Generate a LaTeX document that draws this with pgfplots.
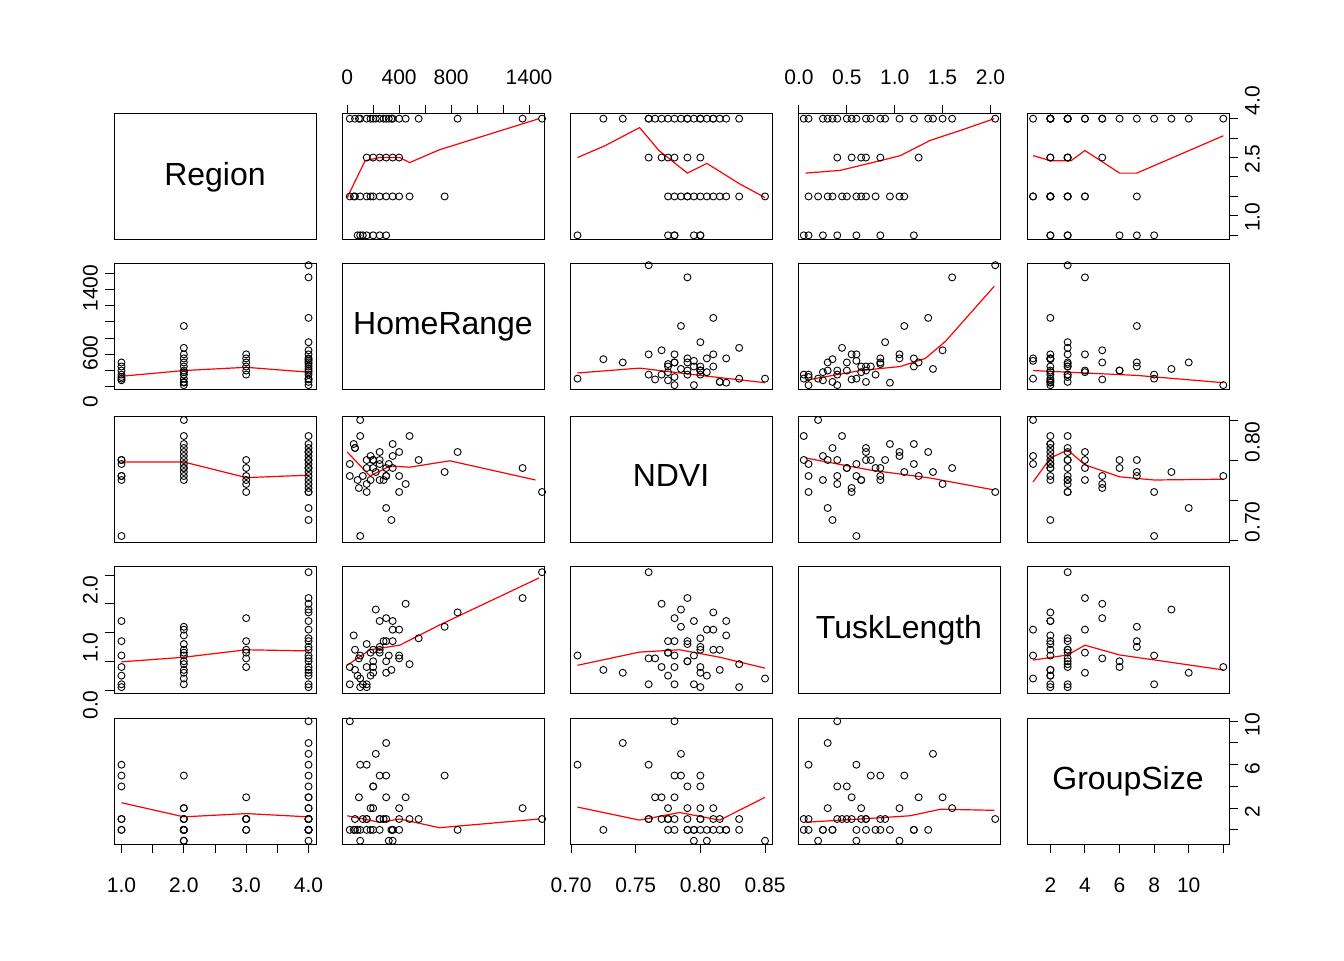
\documentclass[border=0pt]{standalone}
\usepackage{fontspec}
\setmainfont{Liberation Sans}
\usepackage{pgfplots}
\usepackage{pgfplotstable}
\pgfplotsset{compat=1.18}
\pgfplotstableread{
R H N T G
1 100 0.705 0.60 8
1 150 0.800 0.05 3
1 250 0.795 1.20 2
1 300 0.780 0.85 7
1 80 0.775 0.25 2
1 200 0.800 0.40 6
1 120 0.780 0.10 3
2 750 0.785 1.10 7
2 400 0.780 0.60 2
2 300 0.790 0.50 3
2 100 0.850 0.20 1
2 50 0.820 0.95 2
2 200 0.800 0.30 4
2 250 0.810 0.70 3
2 150 0.790 0.80 2
2 350 0.805 1.05 1
2 20 0.795 0.10 2
2 480 0.830 0.45 3
2 180 0.775 0.65 4
2 60 0.815 0.35 2
3 300 0.780 1.25 5
3 350 0.790 0.85 2
3 400 0.760 0.55 3
3 200 0.800 0.70 2
3 150 0.770 0.40 3
3 250 0.775 0.65 3
4 1500 0.760 2.05 3
4 1350 0.790 1.60 4
4 850 0.810 1.35 2
4 550 0.800 0.90 3
4 450 0.770 1.50 5
4 350 0.820 1.20 2
4 300 0.740 0.30 10
4 20 0.780 0.40 12
4 250 0.800 0.75 7
4 200 0.790 0.50 6
4 150 0.760 0.10 8
4 100 0.830 0.05 2
4 400 0.810 1.05 4
4 320 0.795 0.60 1
4 280 0.775 0.85 3
4 180 0.805 0.25 2
4 90 0.765 0.55 5
4 60 0.815 0.70 3
4 220 0.785 1.40 9
4 340 0.725 0.35 2
}\data
\pgfplotsset{
 panel/.style={width=101pt,height=63pt,scale only axis,anchor=south west,
   xtick=\empty,ytick=\empty,axis line style={line width=0.5pt},
   tick align=outside,major tick length=4.5pt,tick style={black,line width=0.5pt},
   tick label style={font=\fontsize{10.5}{12}\selectfont},
   clip=false},
 xR/.style={xmin=0.88,xmax=4.12}, yR/.style={ymin=0.88,ymax=4.12},
 xH/.style={xmin=-40,xmax=1515}, yH/.style={ymin=-40,ymax=1515},
 xN/.style={xmin=0.6992,xmax=0.8554}, yN/.style={ymin=0.6975,ymax=0.855},
 xT/.style={xmin=-0.01,xmax=2.1}, yT/.style={ymin=-0.052,ymax=2.14},
 xG/.style={xmin=0.65,xmax=12.33}, yG/.style={ymin=0.7,ymax=12.3},
 top/.style={xtick pos=upper,xticklabel style={yshift=6.5pt}},
 bot/.style={xtick pos=lower,xticklabel style={yshift=-9pt}},
 lft/.style={ytick pos=left,yticklabel style={rotate=90,anchor=south,xshift=-7.5pt}},
 rgt/.style={ytick pos=right,yticklabel style={rotate=90,anchor=north,xshift=9pt}},
}
\newcommand{\panel}[6]{%
\begin{axis}[panel,at={(#1pt,#2pt)},x#3,y#4,#5]
\addplot[only marks,mark=o,mark size=1.75pt,mark options={line width=0.45pt},black] table[x=#3,y=#4]{\data};
\addplot[red,line width=0.6pt] coordinates {#6};
\end{axis}}
\newcommand{\diag}[4]{%
\begin{axis}[panel,at={(#1pt,#2pt)},x#3,y#3,#4]
\node[font=\fontsize{16}{19}\selectfont] at (rel axis cs:0.5,0.5) {\vphantom{g}\csname dn#3\endcsname};
\end{axis}}
\def\dnR{Region}\def\dnH{HomeRange}\def\dnN{NDVI}\def\dnT{TuskLength}\def\dnG{GroupSize}
\begin{document}
\begin{tikzpicture}
\useasboundingbox (0,0) rectangle (672pt,480pt);
% row 1
\diag{57}{360}{R}{}
\panel{171}{360}{H}{R}{xtick={0,200,...,1400},xticklabels={0,,400,,800,,,1400},top}{(0,1.97)(138,2.92)(250,3.0)(405,3.0)(480,2.87)(710,3.2)(1477,4.0)}
\panel{285}{360}{N}{R}{}{(0.705,3.0)(0.726,3.3)(0.753,3.77)(0.768,3.18)(0.790,2.6)(0.805,2.85)(0.83,2.33)(0.85,1.97)}
\panel{399}{360}{T}{R}{xtick={0,0.5,...,2.0},xticklabels={0.0,0.5,1.0,1.5,2.0},top}{(0.07,2.6)(0.43,2.67)(0.85,2.92)(1.06,3.05)(1.37,3.44)(1.69,3.7)(2.04,4.0)}
\panel{513.5}{360}{G}{R}{ytick={1,1.5,...,4},yticklabels={1.0,,,2.5,,,4.0},rgt}{(1,3.05)(2,2.92)(3.2,2.92)(4,3.18)(4.9,2.92)(6,2.6)(7,2.6)(12,3.56)}
% row 2
\panel{57}{285}{R}{H}{ytick={0,200,...,1400},yticklabels={0,,,600,,,,1400},lft}{(1,130)(2,200)(3,240)(4,180)}
\diag{171}{285}{H}{}
\panel{285}{285}{N}{H}{}{(0.705,170)(0.753,230)(0.80,140)(0.85,50)}
\panel{399}{285}{T}{H}{}{(0.07,80)(0.64,200)(1.06,250)(1.32,350)(1.53,560)(2.04,1240)}
\panel{513.5}{285}{G}{H}{}{(1,200)(4,170)(7,140)(12,50)}
% row 3
\panel{57}{209}{R}{N}{}{(1,0.7975)(2,0.7975)(3,0.778)(4,0.781)}
\panel{171}{209}{H}{N}{}{(0,0.81)(175,0.78)(330,0.7925)(480,0.791)(790,0.799)(1450,0.775)}
\diag{285}{209}{N}{}
\panel{399}{209}{T}{N}{}{(0.07,0.8025)(0.74,0.7875)(1.37,0.7775)(2.04,0.7625)}
\panel{513.5}{209}{G}{N}{ytick={0.70,0.75,0.80,0.85},yticklabels={0.70,,0.80,},rgt}{(1,0.7725)(2,0.8025)(3,0.8125)(4,0.794)(6,0.779)(8,0.775)(12,0.776)}
% row 4
\panel{57}{133.5}{R}{T}{ytick={0,0.5,...,2.0},yticklabels={0.0,,1.0,,2.0},lft}{(1,0.49)(2,0.57)(3,0.70)(4,0.68)}
\panel{171}{133.5}{H}{T}{}{(0,0.43)(175,0.70)(405,0.78)(710,1.13)(1477,1.95)}
\panel{285}{133.5}{N}{T}{}{(0.705,0.43)(0.753,0.66)(0.784,0.70)(0.815,0.57)(0.85,0.38)}
\diag{399}{133.5}{T}{}
\panel{513.5}{133.5}{G}{T}{}{(1,0.52)(3,0.61)(4,0.78)(6,0.61)(12,0.35)}
% row 5
\panel{57}{58}{R}{G}{xtick={1,1.5,...,4},xticklabels={1.0,,2.0,,3.0,,4.0},bot}{(1,4.5)(2,3.2)(3,3.5)(4,3.2)}
\panel{171}{58}{H}{G}{}{(0,3.3)(250,2.7)(405,3.0)(710,2.2)(1477,3.0)}
\panel{285}{58}{N}{G}{xtick={0.70,0.75,0.80,0.85},xticklabels={0.70,0.75,0.80,0.85},bot}{(0.705,4.1)(0.753,2.9)(0.784,3.6)(0.815,2.9)(0.85,5.0)}
\panel{399}{58}{T}{G}{}{(0.07,2.7)(0.64,3.0)(1.16,3.3)(1.48,3.9)(2.04,3.8)}
\diag{513.5}{58}{G}{xtick={2,4,...,12},xticklabels={2,4,6,8,10,},bot,ytick={2,4,...,12},yticklabels={2,,6,,10,},rgt}
\end{tikzpicture}
\end{document}
